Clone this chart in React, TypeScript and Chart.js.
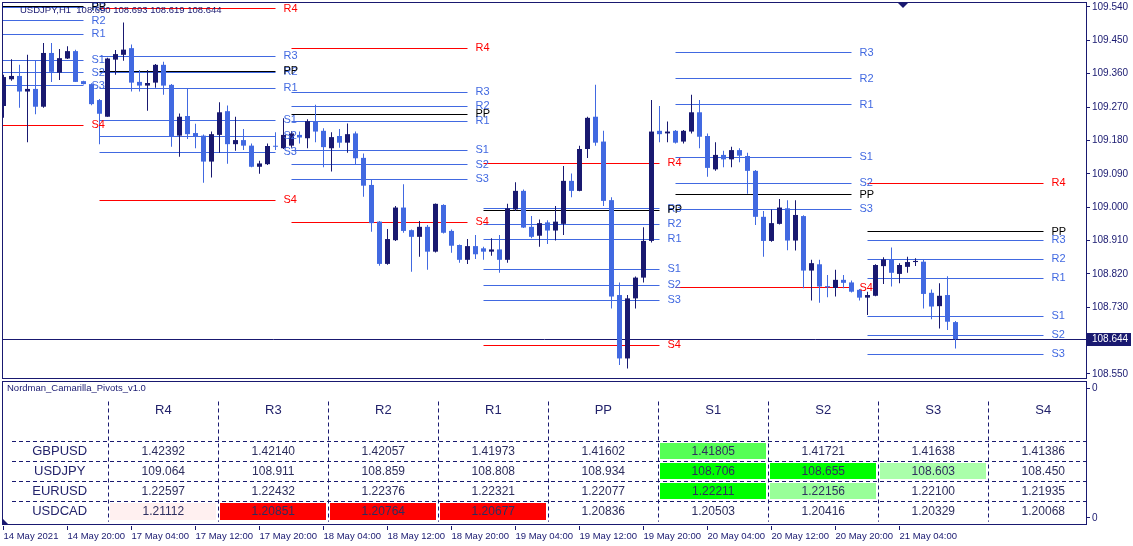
import React, { useEffect, useRef } from 'react';
import { Chart, registerables } from 'chart.js';

Chart.register(...registerables);

// ---------------- data ----------------
const symbolTitle = 'USDJPY,H1';

const opens = [
  109.273, 109.345, 109.354, 109.312, 109.319, 109.271, 109.416, 109.363, 109.401, 109.421,
  109.340, 109.332, 109.289, 109.244, 109.398, 109.411, 109.429, 109.338, 109.328, 109.336,
  109.384, 109.330, 109.193, 109.246, 109.200, 109.193, 109.123, 109.195, 109.259, 109.170,
  109.181, 109.166, 109.109, 109.116, 109.165, 109.159, 109.166, 109.195, 109.186, 109.232,
  109.206, 109.159, 109.192, 109.174, 109.199, 109.133, 109.060, 108.961, 108.847, 108.911,
  108.999, 108.938, 108.920, 108.947, 108.880, 109.006, 108.936, 108.898, 108.858, 108.895,
  108.889, 108.880, 108.886, 108.858, 108.994, 109.044, 108.947, 108.923, 108.959, 108.937,
  108.955, 109.071, 109.044, 109.157, 109.244, 109.177, 109.019, 108.763, 108.592, 108.754,
  108.810, 108.909, 109.206, 109.199, 109.206, 109.177, 109.204, 109.256, 109.192, 109.102,
  109.141, 109.129, 109.154, 109.138, 109.098, 108.974, 108.909, 108.955, 108.997, 108.910,
  108.976, 108.829, 108.846, 108.787, 108.782, 108.804, 108.797, 108.777, 108.756, 108.761,
  108.841, 108.859, 108.820, 108.839, 108.852, 108.853, 108.769, 108.733, 108.763, 108.690,
];
const highs = [
  109.357, 109.399, 109.384, 109.411, 109.395, 109.443, 109.443, 109.427, 109.434, 109.425,
  109.341, 109.334, 109.292, 109.403, 109.424, 109.498, 109.439, 109.370, 109.370, 109.386,
  109.392, 109.332, 109.253, 109.321, 109.225, 109.196, 109.204, 109.283, 109.274, 109.244,
  109.211, 109.172, 109.125, 109.172, 109.202, 109.240, 109.205, 109.204, 109.237, 109.276,
  109.213, 109.202, 109.211, 109.226, 109.204, 109.145, 109.073, 108.963, 108.941, 109.003,
  109.062, 108.940, 108.963, 108.952, 109.010, 109.008, 108.940, 108.899, 108.914, 108.925,
  108.893, 108.916, 108.925, 109.009, 109.067, 109.048, 108.976, 108.967, 108.965, 109.003,
  109.111, 109.091, 109.166, 109.244, 109.330, 109.206, 109.027, 108.797, 108.763, 108.813,
  108.946, 109.289, 109.273, 109.231, 109.208, 109.208, 109.303, 109.289, 109.199, 109.175,
  109.152, 109.163, 109.159, 109.147, 109.100, 108.990, 108.994, 109.022, 109.019, 109.019,
  108.978, 108.858, 108.858, 108.817, 108.831, 108.817, 108.802, 108.779, 108.772, 108.846,
  108.865, 108.891, 108.849, 108.866, 108.862, 108.859, 108.778, 108.795, 108.814, 108.693,
];
const lows = [
  109.241, 109.341, 109.268, 109.175, 109.251, 109.268, 109.338, 109.343, 109.400, 109.338,
  109.331, 109.275, 109.170, 109.244, 109.357, 109.395, 109.312, 109.312, 109.260, 109.322,
  109.303, 109.163, 109.136, 109.184, 109.159, 109.066, 109.080, 109.147, 109.117, 109.152,
  109.154, 109.108, 109.090, 109.114, 109.154, 109.157, 109.160, 109.172, 109.159, 109.175,
  109.108, 109.096, 109.160, 109.147, 109.116, 109.028, 108.934, 108.842, 108.845, 108.909,
  108.931, 108.826, 108.866, 108.831, 108.878, 108.929, 108.877, 108.850, 108.847, 108.860,
  108.858, 108.869, 108.823, 108.850, 108.990, 108.944, 108.916, 108.893, 108.901, 108.910,
  108.925, 109.027, 109.043, 109.133, 109.166, 109.003, 108.727, 108.574, 108.565, 108.727,
  108.797, 108.905, 109.175, 109.175, 109.172, 109.172, 109.199, 109.159, 109.082, 109.098,
  109.108, 109.108, 109.121, 109.036, 108.952, 108.866, 108.907, 108.953, 108.884, 108.883,
  108.781, 108.748, 108.742, 108.757, 108.759, 108.781, 108.770, 108.748, 108.709, 108.760,
  108.793, 108.786, 108.795, 108.823, 108.841, 108.727, 108.698, 108.673, 108.669, 108.619,
];
const closes = [
  109.351, 109.354, 109.312, 109.319, 109.271, 109.416, 109.365, 109.402, 109.421, 109.338,
  109.332, 109.278, 109.252, 109.401, 109.413, 109.425, 109.336, 109.328, 109.335, 109.384,
  109.328, 109.192, 109.244, 109.197, 109.190, 109.123, 109.197, 109.256, 109.170, 109.181,
  109.166, 109.109, 109.118, 109.165, 109.163, 109.195, 109.199, 109.188, 109.232, 109.204,
  109.162, 109.189, 109.174, 109.197, 109.132, 109.058, 108.957, 108.847, 108.914, 108.999,
  108.936, 108.920, 108.947, 108.880, 109.009, 108.931, 108.896, 108.858, 108.895, 108.873,
  108.880, 108.886, 108.858, 108.997, 109.044, 108.945, 108.920, 108.957, 108.937, 108.961,
  109.071, 109.044, 109.157, 109.241, 109.174, 109.017, 108.759, 108.592, 108.754, 108.810,
  108.909, 109.204, 109.197, 109.204, 109.174, 109.206, 109.256, 109.190, 109.106, 109.141,
  109.129, 109.154, 109.139, 109.098, 108.974, 108.909, 108.957, 108.999, 108.910, 108.979,
  108.829, 108.849, 108.786, 108.784, 108.804, 108.796, 108.772, 108.756, 108.763, 108.844,
  108.859, 108.823, 108.844, 108.852, 108.855, 108.766, 108.732, 108.761, 108.691, 108.644,
];

const timeLabels = [
  '14 May 2021', '14 May 20:00', '17 May 04:00', '17 May 12:00', '17 May 20:00',
  '18 May 04:00', '18 May 12:00', '18 May 20:00', '19 May 04:00', '19 May 12:00',
  '19 May 20:00', '20 May 04:00', '20 May 12:00', '20 May 20:00', '21 May 04:00',
];
const timeTickStep = 8;

const priceTicks = [109.54, 109.45, 109.36, 109.27, 109.18, 109.09, 109.0, 108.91, 108.82, 108.73, 108.55];
const currentPrice = 108.644;

// Camarilla levels per day, order: R4 R3 R2 R1 PP S1 S2 S3 S4
const levelNames = ['R4', 'R3', 'R2', 'R1', 'PP', 'S1', 'S2', 'S3', 'S4'];
const dayStarts = [-12, 12, 36, 60, 84, 108];
const dayEnds = [11, 35, 59, 83, 107, 131];
const pivots14May = [109.645, 109.538, 109.503, 109.467, 109.540, 109.396, 109.363, 109.327, 109.221];
const pivots17May = [109.536, 109.407, 109.364, 109.321, 109.367, 109.234, 109.191, 109.148, 109.019];
const pivots18May = [109.429, 109.310, 109.272, 109.232, 109.251, 109.153, 109.115, 109.076, 108.959];
const pivots19May = [109.118, 108.996, 108.954, 108.913, 108.992, 108.832, 108.790, 108.749, 108.627];
const pivots20May = [109.628, 109.416, 109.346, 109.276, 109.033, 109.135, 109.064, 108.994, 108.783];
const pivots21May = [109.064, 108.911, 108.859, 108.808, 108.934, 108.706, 108.655, 108.603, 108.450];
const dayPivots = [pivots14May, pivots17May, pivots18May, pivots19May, pivots20May, pivots21May];

// table panel
const indicatorName = 'Nordman_Camarilla_Pivots_v1.0';
const tableSymbols = ['GBPUSD', 'USDJPY', 'EURUSD', 'USDCAD'];
const tableDigits = [5, 3, 5, 5];
const gbpusdLevels = [1.42392, 1.42140, 1.42057, 1.41973, 1.41602, 1.41805, 1.41721, 1.41638, 1.41386];
const usdjpyLevels = [109.064, 108.911, 108.859, 108.808, 108.934, 108.706, 108.655, 108.603, 108.450];
const eurusdLevels = [1.22597, 1.22432, 1.22376, 1.22321, 1.22077, 1.22211, 1.22156, 1.22100, 1.21935];
const usdcadLevels = [1.21112, 1.20851, 1.20764, 1.20677, 1.20836, 1.20503, 1.20416, 1.20329, 1.20068];
const tableLevels = [gbpusdLevels, usdjpyLevels, eurusdLevels, usdcadLevels];
const gbpusdFills = [null, null, null, null, null, '#55FF55', null, null, null];
const usdjpyFills = [null, null, null, null, null, '#00FF00', '#00FF00', '#AAFFAA', null];
const eurusdFills = [null, null, null, null, null, '#00FF00', '#99FF99', null, null];
const usdcadFills = ['#FFF0F0', '#FF0000', '#FF0000', '#FF0000', null, null, null, null, null];
const tableFills = [gbpusdFills, usdjpyFills, eurusdFills, usdcadFills];

// ---------------- style / layout ----------------
const FONT = "'Liberation Sans', Arial, sans-serif";
const NAVY = '#191970';
const BULL = '#191970';
const BEAR = '#4169E1';
const PIVOT_BLUE = '#4169E1';
const PIVOT_RED = '#FF0000';
const PIVOT_BLACK = '#000000';
const HEAD_TEXT = '#23236b';
const VALUE_TEXT = '#2e2e5e';

const W = 1133;
const MAIN_H = 380;
const TABLE_H = 166;
const AXIS_W = 47;

const X_MIN = -0.0625;
const X_MAX = 135.3125;
const Y_MIN = 108.539209;
const Y_MAX = 109.55079;
const SHIFT_MARK = 112.4;

const COL_MIN = -1.4573;
const COL_MAX = 8.3882;
const ROW_MIN = -3.4158;
const ROW_MAX = 3.7129;
const LABEL_COL = -0.942;
const HEADER_ROW = -2.03;
const DASH_X_START = -1.3755;
const VDASH_TOP = -2.45;
const VDASH_BOTTOM = 3.5;
const PANEL_TICKS = [0.0556, 0.9583];

const levelColor = (k: number) => (k === 0 || k === 8 ? PIVOT_RED : k === 4 ? PIVOT_BLACK : PIVOT_BLUE);
const labelOrder = [0, 1, 2, 3, 5, 6, 7, 8, 4];

// ---------------- plugins ----------------
// keeps the 1px horizontal level lines on whole pixel rows (crisp like the terminal)
const crispLines = {
  id: 'crispLines',
  beforeDatasetDraw(chart: any, args: any) {
    const ds = chart.data.datasets[args.index];
    if (ds.type !== 'line') return;
    const pt = args.meta.data[0];
    if (!pt) return;
    const dy = Math.round(pt.y - 0.5) + 0.5 - pt.y;
    chart.ctx.save();
    chart.ctx.translate(0, dy);
    args.meta._crisp = true;
  },
  afterDatasetDraw(chart: any, args: any) {
    if (args.meta._crisp) {
      chart.ctx.restore();
      args.meta._crisp = false;
    }
  },
};

const mainDecor = {
  id: 'mainDecor',
  afterDraw(chart: any) {
    const { ctx, chartArea: a, scales } = chart;
    const xs = scales.x;
    const ys = scales.y;
    ctx.save();
    ctx.beginPath();
    ctx.rect(a.left, a.top, a.right - a.left, a.bottom - a.top);
    ctx.clip();
    ctx.font = `11px ${FONT}`;
    ctx.textBaseline = 'middle';
    ctx.textAlign = 'left';
    labelOrder.forEach((k) => {
      dayPivots.forEach((lv, d) => {
        ctx.fillStyle = levelColor(k);
        ctx.fillText(levelNames[k], xs.getPixelForValue(dayEnds[d]), ys.getPixelForValue(lv[k]));
      });
    });
    const n = closes.length - 1;
    ctx.font = `9.5px ${FONT}`;
    ctx.fillStyle = NAVY;
    ctx.fillText(
      `${symbolTitle}  ${opens[n].toFixed(3)} ${highs[n].toFixed(3)} ${lows[n].toFixed(3)} ${closes[n].toFixed(3)}`,
      a.left + 17,
      a.top + 7.5
    );
    ctx.restore();

    ctx.save();
    ctx.strokeStyle = NAVY;
    ctx.lineWidth = 1;
    ctx.strokeRect(a.left - 0.5, a.top - 0.5, a.right - a.left + 1, a.bottom - a.top + 1);
    // chart shift marker
    const sx = Math.round(xs.getPixelForValue(SHIFT_MARK));
    ctx.fillStyle = NAVY;
    ctx.beginPath();
    ctx.moveTo(sx - 5, a.top);
    ctx.lineTo(sx + 5, a.top);
    ctx.lineTo(sx, a.top + 5);
    ctx.closePath();
    ctx.fill();
    // current price label
    const py = ys.getPixelForValue(currentPrice);
    ctx.fillStyle = NAVY;
    ctx.fillRect(a.right + 1, Math.round(py) - 6, 44, 13);
    ctx.fillStyle = '#FFFFFF';
    ctx.font = `10px ${FONT}`;
    ctx.textBaseline = 'middle';
    ctx.textAlign = 'left';
    ctx.fillText(currentPrice.toFixed(3), a.right + 6, Math.round(py) + 0.5);
    ctx.restore();
  },
};

const tableDecor = {
  id: 'tableDecor',
  afterDraw(chart: any) {
    const { ctx, chartArea: a, scales } = chart;
    const xt = scales.xt;
    const yr = scales.yr;
    ctx.save();
    // highlighted cells
    tableFills.forEach((row, r) => {
      row.forEach((f, k) => {
        if (!f) return;
        const x0 = Math.round(xt.getPixelForValue(k - 0.5)) + 2;
        const x1 = Math.round(xt.getPixelForValue(k + 0.5)) - 2;
        const y0 = Math.round(yr.getPixelForValue(r - 0.5)) + 2;
        const y1 = Math.round(yr.getPixelForValue(r + 0.5)) - 2;
        ctx.fillStyle = f;
        ctx.fillRect(x0, y0, x1 - x0, y1 - y0);
      });
    });
    // dashed grid
    ctx.strokeStyle = NAVY;
    ctx.lineWidth = 1;
    ctx.setLineDash([4, 3]);
    for (let r = 0; r < tableSymbols.length; r++) {
      const y = Math.round(yr.getPixelForValue(r - 0.5)) + 0.5;
      ctx.beginPath();
      ctx.moveTo(Math.round(xt.getPixelForValue(DASH_X_START)), y);
      ctx.lineTo(a.right, y);
      ctx.stroke();
    }
    for (let k = 0; k < levelNames.length; k++) {
      const x = Math.round(xt.getPixelForValue(k - 0.5)) + 0.5;
      ctx.beginPath();
      ctx.moveTo(x, yr.getPixelForValue(VDASH_TOP));
      ctx.lineTo(x, yr.getPixelForValue(VDASH_BOTTOM));
      ctx.stroke();
    }
    ctx.setLineDash([]);
    // texts
    ctx.textAlign = 'center';
    ctx.textBaseline = 'middle';
    ctx.font = `13px ${FONT}`;
    ctx.fillStyle = HEAD_TEXT;
    levelNames.forEach((name, k) => {
      ctx.fillText(name, xt.getPixelForValue(k), yr.getPixelForValue(HEADER_ROW));
    });
    tableSymbols.forEach((s, r) => {
      ctx.font = `13px ${FONT}`;
      ctx.fillStyle = HEAD_TEXT;
      ctx.fillText(s, xt.getPixelForValue(LABEL_COL), yr.getPixelForValue(r));
      ctx.font = `12px ${FONT}`;
      ctx.fillStyle = VALUE_TEXT;
      tableLevels[r].forEach((v, k) => {
        ctx.fillText(v.toFixed(tableDigits[r]), xt.getPixelForValue(k), yr.getPixelForValue(r) + 0.5);
      });
    });
    // indicator name
    ctx.textAlign = 'left';
    ctx.font = `9.5px ${FONT}`;
    ctx.fillStyle = NAVY;
    ctx.fillText(indicatorName, a.left + 4, a.top + 6.5);
    // frame
    ctx.strokeStyle = NAVY;
    ctx.strokeRect(a.left - 0.5, a.top - 0.5, a.right - a.left + 1, a.bottom - a.top - 1);
    // corner marker
    ctx.fillStyle = NAVY;
    ctx.beginPath();
    ctx.moveTo(a.left, a.bottom - 7);
    ctx.lineTo(a.left, a.bottom - 1.5);
    ctx.lineTo(a.left + 5.5, a.bottom - 1.5);
    ctx.closePath();
    ctx.fill();
    ctx.restore();
  },
};

// ---------------- configs ----------------
function mainConfig(): any {
  const candleColors = closes.map((c, i) => (c >= opens[i] ? BULL : BEAR));
  const bodyData = closes.map((c, i) => ({ x: i, y: [opens[i], c] }));
  const wickData = closes.map((_, i) => ({ x: i, y: [lows[i], highs[i]] }));

  const pivotSets: any[] = [];
  dayPivots.forEach((levels, d) => {
    levels.forEach((v, k) => {
      pivotSets.push({
        type: 'line',
        data: [
          { x: dayStarts[d], y: v },
          { x: dayEnds[d] - 1, y: v },
        ],
        borderColor: levelColor(k),
        borderWidth: 1,
        pointRadius: 0,
        fill: false,
        tension: 0,
        order: 3,
      });
    });
  });

  return {
    type: 'line',
    data: {
      datasets: [
        ...pivotSets,
        {
          type: 'line',
          data: [
            { x: X_MIN, y: currentPrice },
            { x: X_MAX, y: currentPrice },
          ],
          borderColor: NAVY,
          borderWidth: 1,
          pointRadius: 0,
          fill: false,
          order: 4,
        },
        {
          type: 'bar',
          data: wickData,
          backgroundColor: candleColors,
          borderWidth: 0,
          barThickness: 1,
          grouped: false,
          inflateAmount: 0,
          minBarLength: 1,
          order: 1,
        },
        {
          type: 'bar',
          data: bodyData,
          backgroundColor: candleColors,
          borderWidth: 0,
          barThickness: 5,
          grouped: false,
          inflateAmount: 0,
          minBarLength: 1,
          order: 0,
        },
      ],
    },
    options: {
      responsive: false,
      animation: false,
      devicePixelRatio: 1,
      events: [],
      layout: { padding: { left: 3, top: 3, right: 0, bottom: 2 } },
      plugins: { legend: { display: false }, tooltip: { enabled: false } },
      scales: {
        x: { type: 'linear', display: false, min: X_MIN, max: X_MAX, offset: false },
        y: {
          type: 'linear',
          position: 'right',
          min: Y_MIN,
          max: Y_MAX,
          afterBuildTicks: (s: any) => {
            s.ticks = priceTicks.map((v) => ({ value: v }));
          },
          afterFit: (s: any) => {
            s.width = AXIS_W;
            s.paddingTop = 0;
            s.paddingBottom = 0;
          },
          ticks: {
            autoSkip: false,
            padding: 2,
            color: NAVY,
            font: { family: FONT, size: 10 },
            callback: (v: any) => Number(v).toFixed(3),
          },
          grid: { drawOnChartArea: false, drawTicks: true, tickLength: 4, color: NAVY },
          border: { display: false },
        },
      },
    },
    plugins: [crispLines, mainDecor],
  };
}

function tableConfig(): any {
  return {
    type: 'line',
    data: { datasets: [] },
    options: {
      responsive: false,
      animation: false,
      devicePixelRatio: 1,
      events: [],
      layout: { padding: { left: 3, top: 2, right: 0, bottom: 0 } },
      plugins: { legend: { display: false }, tooltip: { enabled: false } },
      scales: {
        x: {
          type: 'linear',
          position: 'bottom',
          min: X_MIN,
          max: X_MAX,
          offset: false,
          afterBuildTicks: (s: any) => {
            s.ticks = timeLabels.map((_, i) => ({ value: i * timeTickStep }));
          },
          afterFit: (s: any) => {
            s.height = 20;
            s.paddingLeft = 0;
            s.paddingRight = 0;
          },
          ticks: {
            autoSkip: false,
            maxRotation: 0,
            minRotation: 0,
            align: 'start',
            padding: 1,
            color: NAVY,
            font: { family: FONT, size: 9.5 },
            callback: (_v: any, i: number) => timeLabels[i],
          },
          grid: { drawOnChartArea: false, drawTicks: true, tickLength: 4, color: NAVY },
          border: { display: false },
        },
        xt: { type: 'linear', display: false, min: COL_MIN, max: COL_MAX },
        y: {
          type: 'linear',
          position: 'right',
          min: 0,
          max: 1,
          afterBuildTicks: (s: any) => {
            s.ticks = PANEL_TICKS.map((v) => ({ value: v }));
          },
          afterFit: (s: any) => {
            s.width = AXIS_W;
            s.paddingTop = 0;
            s.paddingBottom = 0;
          },
          ticks: {
            autoSkip: false,
            padding: 2,
            color: NAVY,
            font: { family: FONT, size: 10 },
            callback: () => '0',
          },
          grid: { drawOnChartArea: false, drawTicks: true, tickLength: 4, color: NAVY },
          border: { display: false },
        },
        yr: { type: 'linear', display: false, reverse: true, min: ROW_MIN, max: ROW_MAX },
      },
    },
    plugins: [tableDecor],
  };
}

export default function App() {
  const mainRef = useRef<HTMLCanvasElement>(null);
  const tableRef = useRef<HTMLCanvasElement>(null);

  useEffect(() => {
    const c1 = new Chart(mainRef.current as HTMLCanvasElement, mainConfig());
    const c2 = new Chart(tableRef.current as HTMLCanvasElement, tableConfig());
    return () => {
      c1.destroy();
      c2.destroy();
    };
  }, []);

  return (
    <div style={{ position: 'fixed', left: 0, top: 0, width: W, height: MAIN_H + TABLE_H, background: '#FFFFFF' }}>
      <canvas
        ref={mainRef}
        width={W}
        height={MAIN_H}
        style={{ position: 'absolute', left: 0, top: 0, width: W, height: MAIN_H, display: 'block' }}
      />
      <canvas
        ref={tableRef}
        width={W}
        height={TABLE_H}
        style={{ position: 'absolute', left: 0, top: MAIN_H, width: W, height: TABLE_H, display: 'block' }}
      />
    </div>
  );
}
